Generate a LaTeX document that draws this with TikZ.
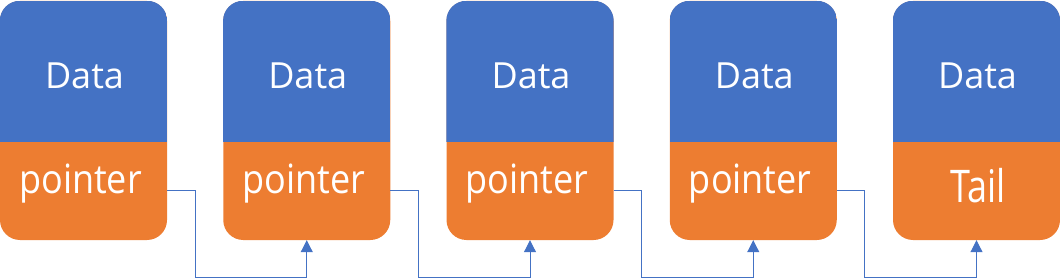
\documentclass[tikz,border=0pt]{standalone}
\usepackage{fontspec}
\setmainfont{Open Sans}
\usetikzlibrary{arrows.meta}
\definecolor{offblue}{HTML}{4472C4}
\definecolor{offorange}{HTML}{ED7D31}
\tikzset{
  box/.style={rectangle, rounded corners=20pt, fill=offorange, minimum width=167pt, minimum height=239pt, inner sep=0pt, draw=none},
  dtxt/.style={text=white, font=\fontsize{36}{40}\selectfont, anchor=base, inner sep=0pt},
  ptxt/.style={text=white, font=\fontsize{36}{40}\selectfont, anchor=base, inner sep=0pt},
  link/.style={draw=offblue, line width=1pt, -{Triangle[width=12pt,length=12pt]}},
}
\newcommand{\ptext}{\scalebox{1}[1.12]{pointer}}
\newcommand{\ttext}{\scalebox{1}[1.25]{Tail}}
\begin{document}
\begin{tikzpicture}[x=1pt,y=1pt]
\useasboundingbox (0,0) rectangle (1060,279);
\foreach \i in {1,...,5}{
  \pgfmathsetmacro{\cx}{83.5+223.25*(\i-1)}
  \node[box] (b\i) at (\cx,158.5) {};
  \begin{scope}
    \clip[rounded corners=20pt] (b\i.south west) rectangle (b\i.north east);
    \fill[offblue] (b\i.north west) rectangle ([yshift=98.5pt]b\i.south east);
  \end{scope}
  \node[dtxt] (d\i) at ([xshift=1pt]b\i.center |- 0,190.7) {Data};
}
\foreach \i in {1,...,4}{
  \node[ptxt] (p\i) at ([xshift=-3pt]b\i.center |- 0,85.7) {\ptext};
}
\node[ptxt] (t5) at ([xshift=1.5pt]b5.center |- 0,76.7) {\ttext};
\foreach \i/\j in {1/2,2/3,3/4,4/5}{
  \draw[link] ([yshift=49.5pt]b\i.south east) -- ++(28,0) -- ++(0,-87) -| (b\j.south);
}
\end{tikzpicture}
\end{document}
